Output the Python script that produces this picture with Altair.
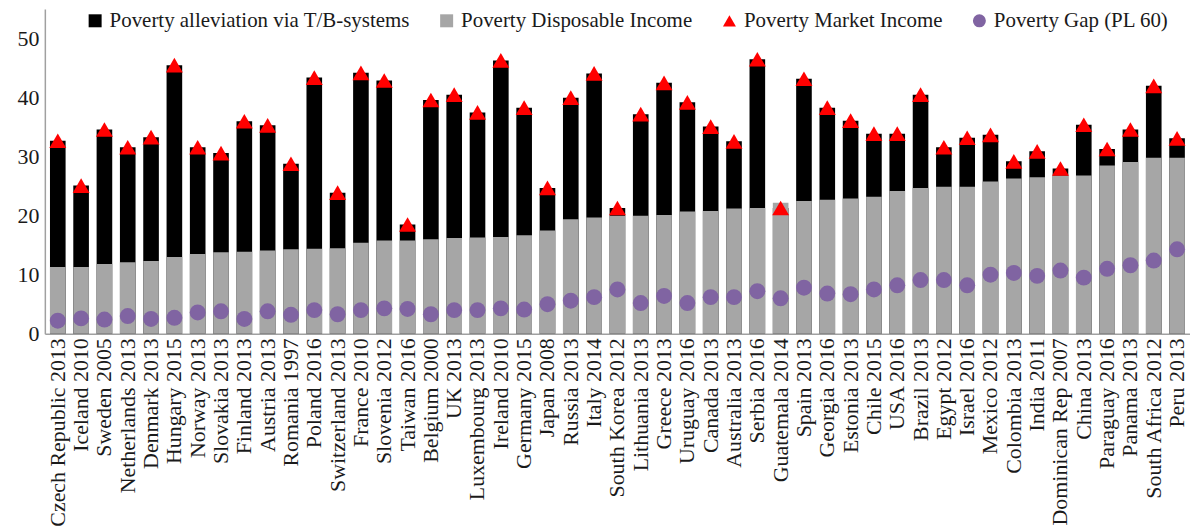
import altair as alt
import pandas as pd

countries = [
    "Czech Republic 2013", "Iceland 2010", "Sweden 2005", "Netherlands 2013", "Denmark 2013",
    "Hungary 2015", "Norway 2013", "Slovakia 2013", "Finland 2013", "Austria 2013",
    "Romania 1997", "Poland 2016", "Switzerland 2013", "France 2010", "Slovenia 2012",
    "Taiwan 2016", "Belgium 2000", "UK 2013", "Luxembourg 2013", "Ireland 2010",
    "Germany 2015", "Japan 2008", "Russia 2013", "Italy 2014", "South Korea 2012",
    "Lithuania 2013", "Greece 2013", "Uruguay 2016", "Canada 2013", "Australia 2013",
    "Serbia 2016", "Guatemala 2014", "Spain 2013", "Georgia 2016", "Estonia 2013",
    "Chile 2015", "USA 2016", "Brazil 2013", "Egypt 2012", "Israel 2016",
    "Mexico 2012", "Colombia 2013", "India 2011", "Dominican Rep 2007", "China 2013",
    "Paraguay 2016", "Panama 2013", "South Africa 2012", "Peru 2013",
]

disposable = [
    11.3, 11.3, 11.8, 12.1, 12.3, 13.0, 13.5, 13.8, 13.9, 14.1,
    14.3, 14.4, 14.5, 15.4, 15.8, 15.8, 16.0, 16.2, 16.3, 16.4,
    16.7, 17.5, 19.4, 19.7, 20.0, 20.0, 20.1, 20.7, 20.8, 21.2,
    21.3, 22.2, 22.5, 22.7, 22.9, 23.2, 24.2, 24.7, 24.9, 24.9,
    25.8, 26.3, 26.5, 26.8, 26.8, 28.5, 29.1, 29.8, 29.8,
]

market = [
    32.7, 25.1, 34.6, 31.6, 33.3, 45.5, 31.6, 30.6, 36.0, 35.3,
    28.8, 43.4, 23.9, 44.2, 42.9, 18.5, 39.6, 40.5, 37.5, 46.3,
    38.3, 24.7, 40.0, 44.1, 21.3, 37.2, 42.5, 39.2, 35.1, 32.6,
    46.5, 21.3, 43.2, 38.3, 36.1, 33.9, 33.9, 40.5, 31.6, 33.2,
    33.7, 29.2, 30.9, 28.0, 35.4, 31.3, 34.6, 42.0, 33.1,
]

gap = [
    2.2, 2.6, 2.4, 3.0, 2.5, 2.7, 3.6, 3.8, 2.5, 3.8,
    3.2, 4.0, 3.3, 4.0, 4.3, 4.2, 3.3, 4.0, 4.0, 4.3,
    4.1, 5.0, 5.6, 6.2, 7.5, 5.2, 6.4, 5.2, 6.2, 6.2,
    7.2, 6.0, 7.8, 6.8, 6.7, 7.5, 8.2, 9.1, 9.1, 8.2,
    10.0, 10.3, 9.8, 10.7, 9.5, 11.0, 11.6, 12.4, 14.3,
]

series = [
    "Poverty alleviation via T/B-systems",
    "Poverty Disposable Income",
    "Poverty Market Income",
    "Poverty Gap (PL 60)",
]
colors = ["#000000", "#A6A6A6", "#FF0000", "#8064A2"]
shapes = ["square", "square", "triangle-up", "circle"]

df = pd.DataFrame({"country": countries, "disp": disposable, "market": market, "gap": gap})

FONT = "Liberation Serif"
TXT = "#1a1a1a"

color_scale = alt.Scale(domain=series, range=colors)
shape_scale = alt.Scale(domain=series, range=shapes)
legend = alt.Legend(
    title=None, orient="none", direction="horizontal", legendX=40, legendY=1,
    labelFont=FONT, labelFontSize=21, labelColor=TXT, labelLimit=500,
    symbolSize=170, columnPadding=26, labelOffset=4, symbolStrokeWidth=0,
)

x = alt.X(
    "country:N", sort=countries,
    scale=alt.Scale(paddingInner=0.33, paddingOuter=0.22),
    axis=alt.Axis(
        title=None, labelAngle=-90, labelFont=FONT, labelFontSize=22, labelColor=TXT,
        labelPadding=4, ticks=False, domainColor="#A0A0A0", domainWidth=1.5,
        labelOverlap=False, labelAlign="right", labelBaseline="middle", labelLimit=400,
    ),
)
y_scale = alt.Scale(domain=[0, 55], nice=False)
y_axis = alt.Axis(
    title=None, values=[0, 10, 20, 30, 40, 50], grid=False, ticks=False,
    labelFont=FONT, labelFontSize=22, labelColor=TXT, labelPadding=6,
    domainColor="#A0A0A0", domainWidth=1.5, minExtent=37, maxExtent=37,
)

base = alt.Chart(df)


def col():
    return alt.Color("s:N", scale=color_scale, legend=legend)


def shp():
    return alt.Shape("s:N", scale=shape_scale, legend=legend)


black = base.transform_calculate(s=f"'{series[0]}'").mark_bar().encode(
    x=x,
    y=alt.Y("market:Q", scale=y_scale, axis=y_axis),
    color=col(),
)
gray = base.transform_calculate(s=f"'{series[1]}'").mark_bar().encode(
    x=x,
    y=alt.Y("disp:Q", scale=y_scale),
    color=col(),
)
tri = base.transform_calculate(s=f"'{series[2]}'").mark_point(filled=True, size=289, opacity=1).encode(
    x=x,
    y=alt.Y("market:Q", scale=y_scale),
    color=col(),
    shape=shp(),
)
circ = base.transform_calculate(s=f"'{series[3]}'").mark_point(filled=True, size=256, opacity=1).encode(
    x=x,
    y=alt.Y("gap:Q", scale=y_scale),
    color=col(),
    shape=shp(),
)

chart = (
    alt.layer(black, gray, tri, circ)
    .properties(width=1150, height=326, padding={"left": 0, "top": 0, "right": 0, "bottom": 0})
    .configure_view(strokeWidth=0)
)

chart.save("out.html", embed_options={"renderer": "svg", "actions": False})
